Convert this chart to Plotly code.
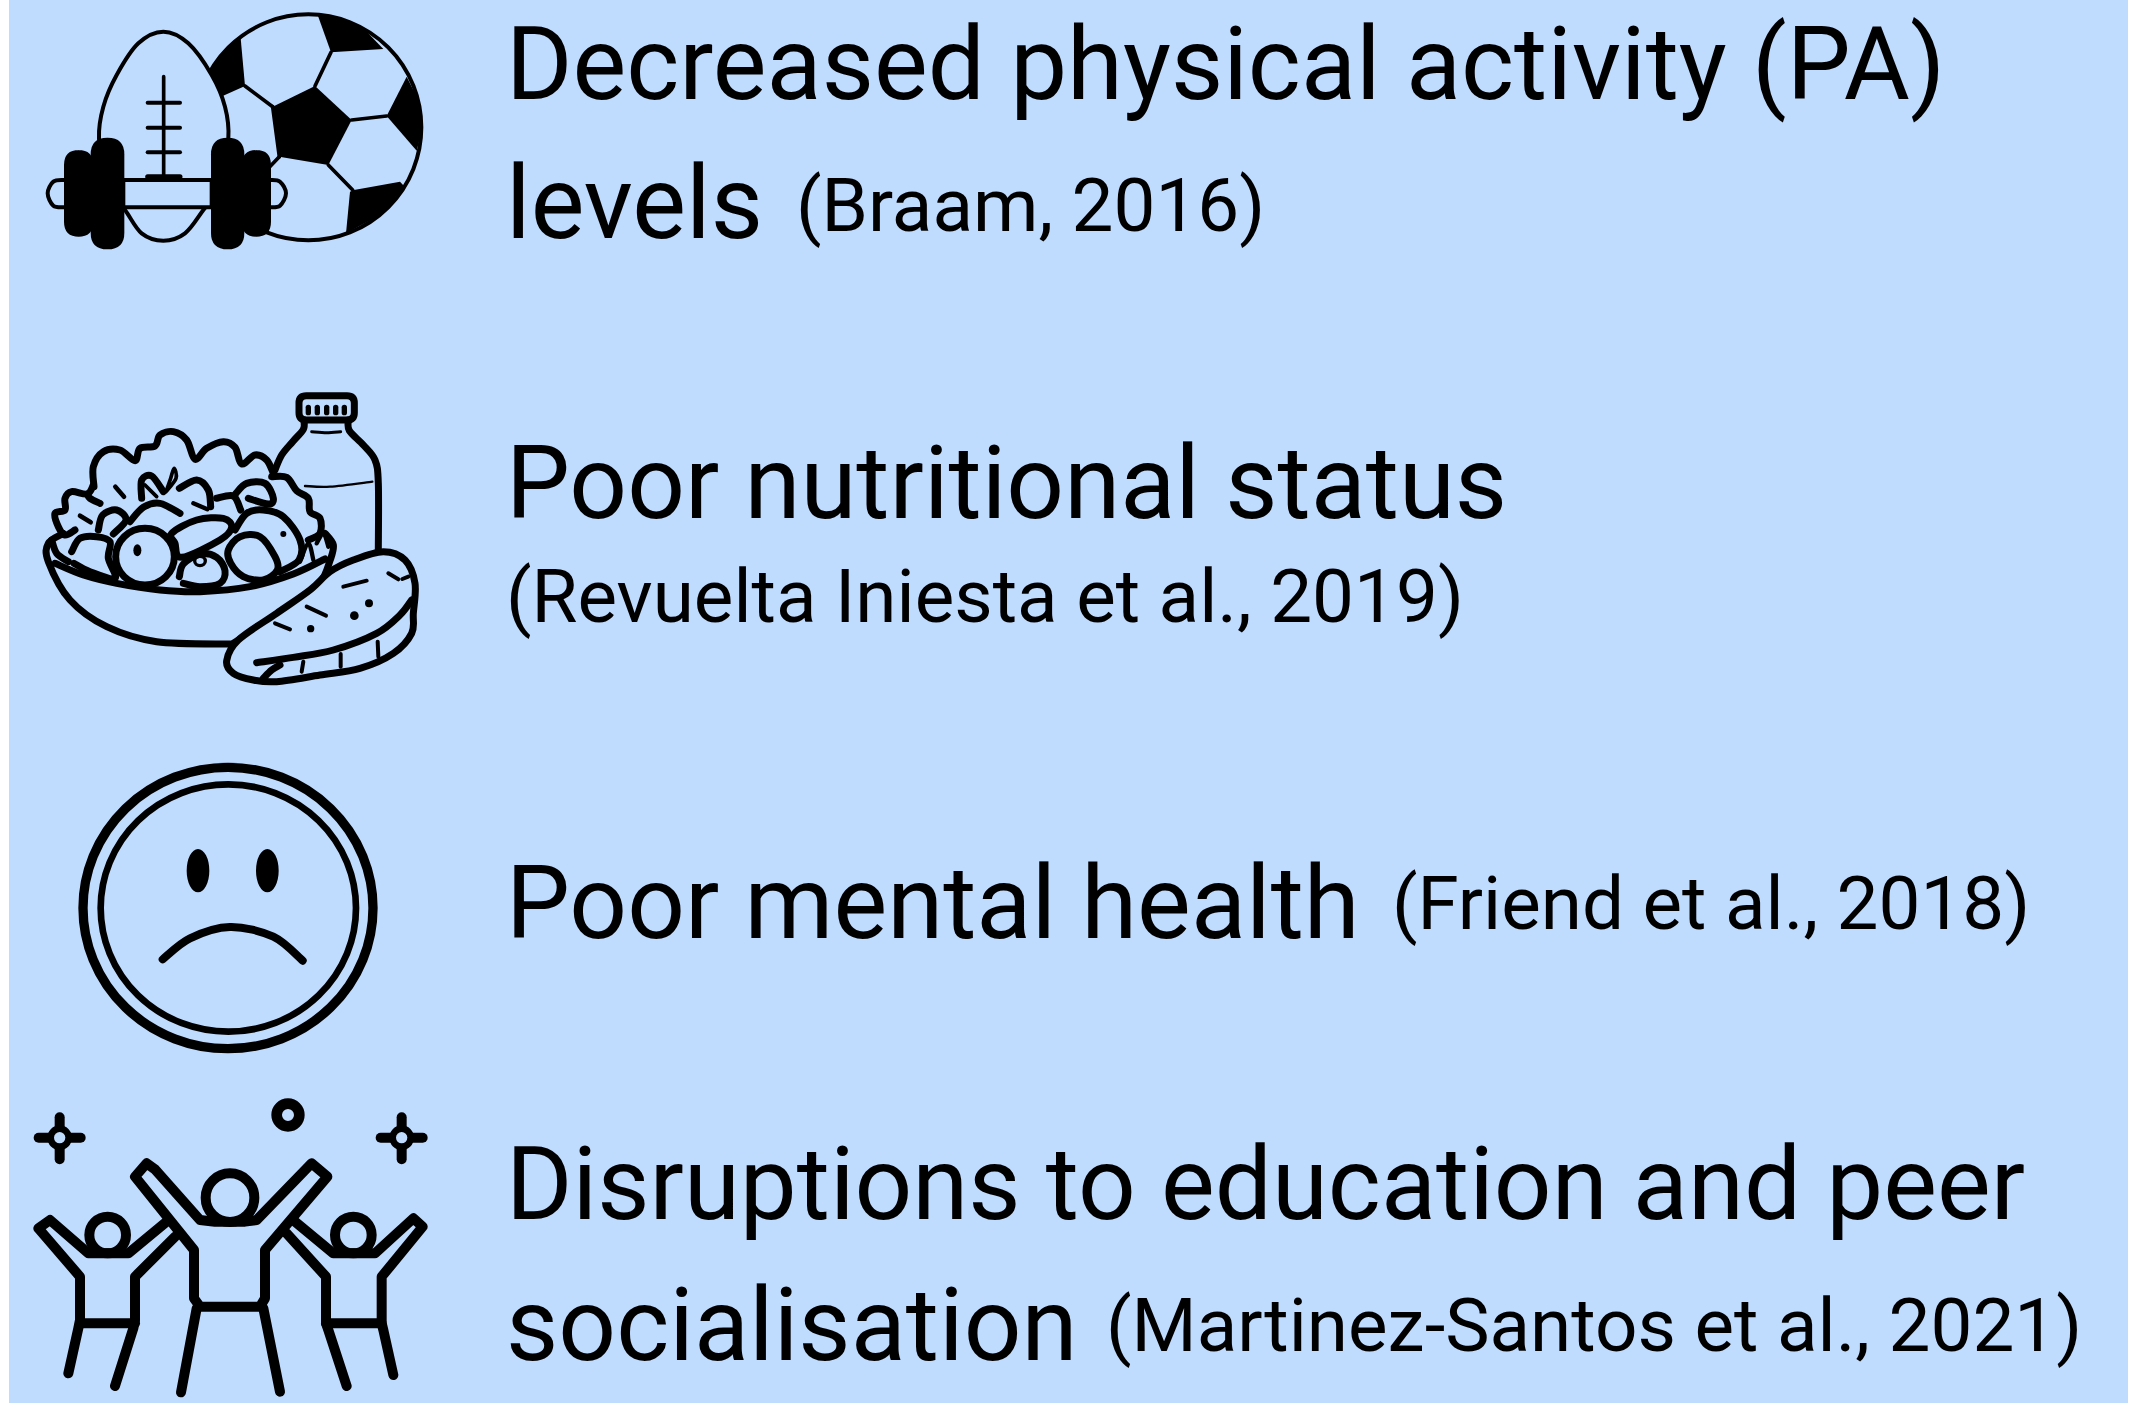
import plotly.graph_objects as go

# ---------- text content ----------
HEADLINES = ["Decreased physical activity (PA)", "levels", "Poor nutritional status",
             "Poor mental health", "Disruptions to education and peer", "socialisation"]
HEAD_X = [503.5, 503.5, 503.5, 503.5, 503.5, 503.5]
HEAD_Y = [64, 203, 483.5, 903.5, 1184, 1325]
CITATIONS = ["(Braam, 2016)", "(Revuelta Iniesta et al., 2019)", "(Friend et al., 2018)",
             "(Martinez-Santos et al., 2021)"]
CITE_X = [794, 503.5, 1390, 1104]
CITE_Y = [205, 596, 903, 1325]

BG = "#BFDBFE"
INK = "#000000"
shapes = []


def T(p, o):
    return ((p[0] / 3 + o[0]), (p[1] / 3 + o[1]))


def fmt(p):
    return f"{p[0]:.2f},{p[1]:.2f}"


def curve(pts, closed=False):
    n = len(pts)
    d = "M" + fmt(pts[0])
    segs = n if closed else n - 1
    for i in range(segs):
        p1, p2 = pts[i], pts[(i + 1) % n]
        p0 = pts[(i - 1) % n] if (closed or i > 0) else p1
        p3 = pts[(i + 2) % n] if (closed or i + 2 < n) else p2
        c1 = (p1[0] + (p2[0] - p0[0]) / 6, p1[1] + (p2[1] - p0[1]) / 6)
        c2 = (p2[0] - (p3[0] - p1[0]) / 6, p2[1] - (p3[1] - p1[1]) / 6)
        d += f" C{fmt(c1)} {fmt(c2)} {fmt(p2)}"
    return d + (" Z" if closed else "")


def poly(pts, closed=False):
    return "M" + " L".join(fmt(p) for p in pts) + (" Z" if closed else "")


def add_path(d, w=0.0, fill=None):
    s = dict(type="path", path=d, xref="x", yref="y", layer="above",
             line=dict(color=INK if w > 0 else "rgba(0,0,0,0)", width=w))
    if fill:
        s["fillcolor"] = fill
    shapes.append(s)


def S(o, pts, w, fill=None, closed=False):
    add_path(curve([T(p, o) for p in pts], closed), w / 3, fill)


def L(o, pts, w, fill=None, closed=False):
    add_path(poly([T(p, o) for p in pts], closed), w / 3, fill)


def E(o, c, rx, ry, w=0, fill=None):
    a = T((c[0] - rx, c[1] - ry), o)
    b = T((c[0] + rx, c[1] + ry), o)
    shapes.append(dict(type="circle", xref="x", yref="y", layer="above",
                       x0=a[0], x1=b[0], y0=a[1], y1=b[1],
                       fillcolor=fill if fill else "rgba(0,0,0,0)",
                       line=dict(color=INK if w else "rgba(0,0,0,0)", width=w / 3)))


def RR(o, x0, y0, x1, y1, r, w=0, fill=INK):
    a, b = T((x0, y0), o), T((x1, y1), o)
    r /= 3
    X0, Y0, X1, Y1 = a[0], a[1], b[0], b[1]
    d = (f"M{X0 + r},{Y0} L{X1 - r},{Y0} Q{X1},{Y0} {X1},{Y0 + r} L{X1},{Y1 - r} Q{X1},{Y1} {X1 - r},{Y1} "
         f"L{X0 + r},{Y1} Q{X0},{Y1} {X0},{Y1 - r} L{X0},{Y0 + r} Q{X0},{Y0} {X0 + r},{Y0} Z")
    add_path(d, w / 3, fill)


# ---------- icon 1 : ball, football, dumbbell ----------
o = (0, 0)
E(o, (925, 382), 339, 339, 12)
for patch in ([(953, 45), (993, 157), (1150, 147), (1090, 85), (1020, 55)],
              [(722, 115), (735, 258), (668, 288), (628, 210), (670, 155)],
              [(818, 320), (945, 258), (1055, 360), (985, 495), (838, 470)],
              [(1220, 230), (1160, 348), (1250, 452), (1268, 380), (1255, 300)],
              [(1062, 570), (1200, 545), (1212, 558), (1150, 640), (1038, 700), (1050, 575)]):
    L(o, patch, 0, INK, True)
for seg in ([(993, 157), (945, 258)], [(735, 258), (818, 320)], [(818, 320), (838, 470)],
            [(838, 470), (805, 505)], [(1055, 360), (1160, 348)], [(985, 495), (1058, 570)]):
    L(o, seg, 11)
S(o, [(297, 415), (310, 320), (350, 225), (415, 130), (490, 95), (565, 130), (635, 225), (675, 320),
      (685, 415), (660, 560), (610, 630), (555, 700), (490, 722), (425, 700), (375, 630), (320, 560)],
  12, BG, True)
L(o, [(491, 230), (491, 530)], 11)
for yy in (308, 383, 457):
    L(o, [(443, yy), (540, yy)], 12)
L(o, [(443, 530), (540, 530)], 15)
L(o, [(370, 540), (635, 540), (635, 622), (370, 622)], 12, BG, True)
S(o, [(192, 540), (160, 545), (143, 580), (160, 617), (192, 622)], 12)
S(o, [(810, 540), (840, 545), (858, 580), (840, 617), (810, 622)], 12)
RR(o, 192, 450, 280, 710, 45)
RR(o, 272, 413, 373, 748, 50)
RR(o, 633, 413, 733, 748, 50)
RR(o, 725, 450, 813, 710, 45)

# ---------- icon 2 : salad, bottle, bread ----------
o = (0, 370)
W = 21
RR(o, 897, 77, 1063, 150, 22, W, "rgba(0,0,0,0)")
for xx in (925, 952, 980, 1007, 1033):
    L(o, [(xx, 112), (xx, 128)], 16)
S(o, [(912, 150), (910, 178), (878, 215), (845, 255), (825, 300)], W)
S(o, [(1045, 150), (1048, 182), (1090, 225), (1125, 270), (1135, 340), (1135, 540)], W)
S(o, [(935, 185), (980, 188), (1022, 185)], 9)
S(o, [(915, 348), (990, 350), (1117, 335)], 7)
S(o, [(282, 350), (280, 290), (310, 245), (360, 240), (405, 272), (420, 235), (465, 228), (480, 195),
      (520, 185), (560, 210), (585, 268), (620, 235), (670, 215), (705, 232), (725, 282), (765, 255),
      (800, 270), (820, 310)], W)
S(o, [(815, 320), (860, 322), (890, 362), (925, 385), (930, 425), (960, 445), (960, 490), (925, 510)], W)
S(o, [(280, 345), (262, 372), (215, 365), (195, 385), (195, 420), (165, 430), (175, 470), (195, 495), (225, 480)], W)
S(o, [(300, 400), (270, 385), (262, 372)], W)
S(o, [(240, 437), (272, 457)], 14)
S(o, [(346, 350), (372, 380)], 14)
S(o, [(295, 480), (308, 435), (350, 420), (378, 450), (340, 492)], W)
S(o, [(390, 455), (430, 412), (480, 400), (540, 430)], W)
S(o, [(425, 385), (425, 330), (455, 318), (490, 365)], W)
S(o, [(435, 345), (470, 380)], 11)
S(o, [(498, 365), (512, 325), (522, 295), (528, 325), (498, 365)], 11)
S(o, [(538, 355), (590, 330), (625, 360), (632, 410)], W)
S(o, [(580, 400), (622, 418)], 13)
S(o, [(650, 385), (700, 378), (722, 420)], W)
S(o, [(708, 370), (740, 340), (795, 340), (820, 385), (805, 402), (745, 385)], W)
S(o, [(515, 490), (590, 450), (670, 445), (695, 472), (660, 510), (545, 562), (525, 520)], W, BG, True)
S(o, [(215, 545), (240, 505), (290, 500), (330, 515), (325, 565), (345, 625), (270, 605), (222, 580)], W)
E(o, (435, 560), 88, 85, W, BG)
E(o, (412, 541), 12, 18, 0, INK)
S(o, [(538, 620), (550, 582), (600, 552), (650, 562), (675, 602), (660, 640), (600, 650), (550, 640)], W)
E(o, (600, 573), 16, 14, 10)
S(o, [(705, 480), (740, 430), (790, 420), (850, 440), (900, 510), (897, 570), (840, 605)], W)
E(o, (850, 492), 9, 9, 0, INK)
S(o, [(685, 540), (720, 500), (780, 500), (825, 560), (832, 600), (790, 630), (730, 620), (692, 580)], W, BG, True)
S(o, [(900, 575), (925, 520), (940, 570)], 13)
S(o, [(950, 520), (970, 490), (985, 530)], 13)
# bowl
S(o, [(190, 490), (145, 520), (145, 575), (210, 690), (320, 770), (470, 815), (690, 822)], W)
S(o, [(165, 580), (250, 615), (350, 640), (480, 660), (600, 665), (750, 650), (880, 612), (975, 567)], W)
S(o, [(975, 490), (1000, 525), (990, 572), (960, 640), (890, 700), (780, 770), (700, 820)], W)
S(o, [(155, 510), (170, 550), (205, 575)], W)
# bread
S(o, [(680, 872), (715, 810), (830, 730), (930, 660), (990, 605), (1060, 570), (1150, 545), (1215, 570),
      (1245, 640), (1240, 730), (1235, 790), (1180, 850), (1080, 895), (960, 915), (830, 935), (760, 930),
      (700, 910)], W, BG, True)
S(o, [(1235, 690), (1200, 735), (1130, 790), (1000, 840), (880, 862), (770, 878)], W)
S(o, [(840, 885), (815, 900), (790, 925)], W)
for seg in ([(910, 875), (905, 905)], [(1022, 852), (1022, 890)], [(1133, 815), (1135, 860)]):
    L(o, seg, 12)
for seg in ([(1030, 650), (1100, 632)], [(920, 710), (978, 737)], [(825, 760), (870, 778)],
            [(1165, 610), (1195, 628)], [(1207, 627), (1225, 620)]):
    L(o, seg, 12)
for c, r in (((1063, 737), 13), ((1107, 700), 12), ((932, 776), 11)):
    E(o, c, r, r, 0, INK)

# ---------- icon 3 : sad face ----------
o = (0, 740)
E(o, (684, 504), 435, 422, 28)
E(o, (685, 504), 383, 371, 20)
E(o, (594, 392), 34, 65, 0, INK)
E(o, (802, 392), 34, 65, 0, INK)
S(o, [(488, 658), (570, 595), (690, 561), (820, 590), (908, 662)], 24)

# ---------- icon 4 : cheering people ----------
o = (0, 1080)
W = 30
for cx in (179, 1205):
    L(o, [(cx, 112), (cx, 238)], W)
    L(o, [(cx - 63, 173), (cx + 63, 173)], W)
    E(o, (cx, 173), 37, 37, 0, INK)
    E(o, (cx, 173), 17, 17, 0, BG)
E(o, (864, 105), 34, 34, 32)
# side figures
E(o, (323, 465), 55, 55, W)
E(o, (1060, 465), 55, 55, W)
L(o, [(500, 425), (385, 520), (265, 520), (150, 420), (115, 445), (240, 590), (240, 720), (235, 745), (205, 880)], W)
L(o, [(525, 470), (405, 590), (405, 720), (400, 745), (345, 918)], W)
L(o, [(240, 730), (405, 730)], W)
L(o, [(885, 425), (1000, 520), (1125, 520), (1240, 415), (1268, 440), (1145, 590), (1145, 730), (1150, 750), (1180, 885)], W)
L(o, [(860, 460), (978, 590), (978, 730), (985, 750), (1040, 918)], W)
L(o, [(978, 730), (1145, 730)], W)
# central figure
L(o, [(600, 420), (465, 268), (440, 250), (405, 290), (582, 510), (582, 655), (600, 680), (780, 680),
      (795, 655), (795, 510), (982, 290), (935, 250), (770, 420), (735, 425), (645, 425)], W, BG, True)
E(o, (690, 353), 73, 73, W, BG)
L(o, [(590, 685), (543, 937)], W)
L(o, [(790, 685), (840, 935)], W)

# ---------- text ----------
annotations = []
for txt, x, y in zip(HEADLINES, HEAD_X, HEAD_Y):
    annotations.append(dict(text=txt, x=x, y=y, xref="x", yref="y", xanchor="left", yanchor="middle",
                            showarrow=False, font=dict(family="Roboto", size=101.4, color=INK)))
for txt, x, y in zip(CITATIONS, CITE_X, CITE_Y):
    annotations.append(dict(text=txt, x=x, y=y, xref="x", yref="y", xanchor="left", yanchor="middle",
                            showarrow=False, font=dict(family="Roboto", size=74.6, color=INK)))

panel = dict(type="rect", xref="x", yref="y", x0=9, x1=2128, y0=0, y1=1403,
             fillcolor=BG, line=dict(width=0), layer="below")

fig = go.Figure()
fig.update_layout(width=2151, height=1403, margin=dict(l=0, r=0, t=0, b=0),
                  paper_bgcolor="#FFFFFF", plot_bgcolor="#FFFFFF", showlegend=False,
                  xaxis=dict(range=[0, 2151], visible=False, fixedrange=True),
                  yaxis=dict(range=[1403, 0], visible=False, fixedrange=True),
                  shapes=[panel] + shapes, annotations=annotations)
post = ("document.body.style.margin='0';document.documentElement.style.overflow='hidden';"
        "var st=document.createElement('style');"
        "st.textContent='.shapelayer path{stroke-linecap:round;stroke-linejoin:round}';"
        "document.head.appendChild(st);")
fig.write_html("out.html", config={"displayModeBar": False}, post_script=post)
